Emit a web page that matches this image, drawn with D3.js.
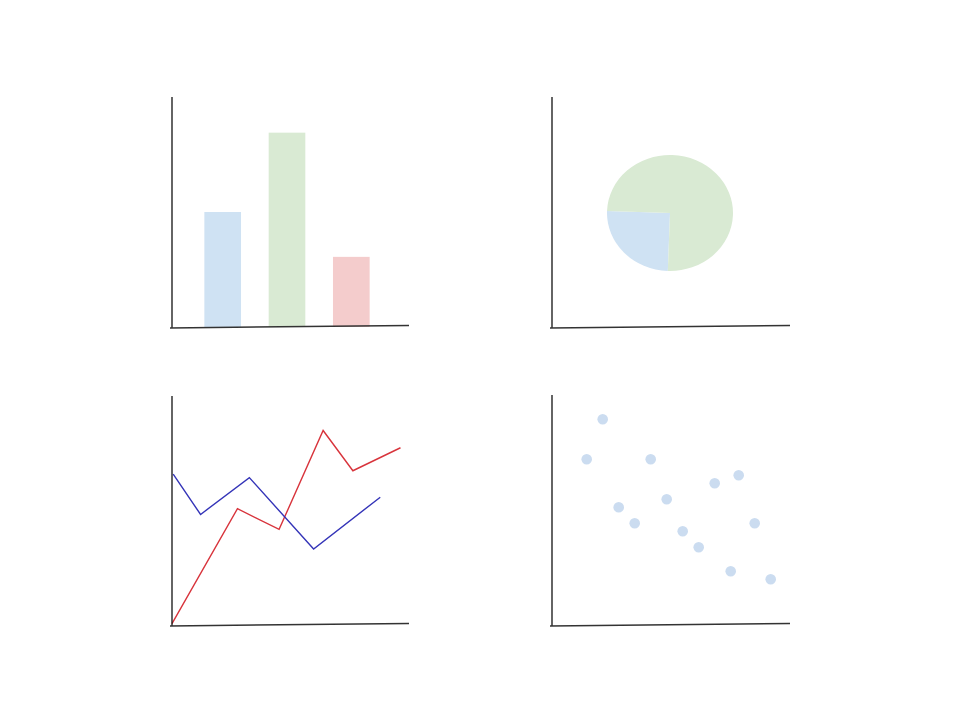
<!DOCTYPE html>
<html>
<head>
<meta charset="utf-8">
<script src="https://cdn.jsdelivr.net/npm/d3@7"></script>
<style>
  html, body { margin: 0; padding: 0; background: #fff; }
  svg { display: block; }
</style>
</head>
<body>
<script>
// ---- data ----
const barCategories = ["A", "B", "C"];
const barValues = [5, 8.45, 3.05];
const barColors = ["#cfe2f3", "#d9ead3", "#f4cccc"];

const pieLabels = ["Blue", "Green"];
const pieValues = [25, 75];
const pieColors = ["#cfe2f3", "#d9ead3"];

const redX = [0, 2.75, 4.5, 6.35, 7.6, 9.6];
const redY = [0.1, 5.1, 4.2, 8.5, 6.75, 7.75];
const blueX = [0.05, 1.2, 3.25, 5.95, 8.75];
const blueY = [6.6, 4.85, 6.45, 3.35, 5.6];

const scatterX = [3, 2, 6, 4, 5, 7, 8, 9, 10, 11.5, 12.5, 11, 13.5];
const scatterY = [26, 21, 21, 15, 13, 16, 12, 10, 18, 19, 13, 7, 6];

// ---- drawing ----
const W = 960, H = 720;
const svg = d3.select("body").append("svg").attr("width", W).attr("height", H);

function axes(g, x0, x1, yTop, yBot, yBotRight) {
  g.append("line").attr("x1", x0).attr("x2", x0).attr("y1", yTop).attr("y2", yBot)
    .attr("stroke", "#111").attr("stroke-width", 1.3);
  g.append("line").attr("x1", x0 - 2).attr("x2", x1).attr("y1", yBot).attr("y2", yBotRight)
    .attr("stroke", "#333").attr("stroke-width", 1.5);
}

// Panel 1: bar chart
{
  const g = svg.append("g");
  const x = d3.scaleBand().domain(barCategories).range([191.5, 382.5]).paddingInner(0.43).paddingOuter(0.2);
  const y = d3.scaleLinear().domain([0, 10]).range([327, 97]);
  g.selectAll("rect").data(barValues).join("rect")
    .attr("x", (d, i) => x(barCategories[i]))
    .attr("width", x.bandwidth())
    .attr("y", d => y(d))
    .attr("height", d => y(0) - y(d))
    .attr("fill", (d, i) => barColors[i]);
  axes(g, 172, 409, 97, 328, 325.5);
}

// Panel 2: pie chart
{
  const g = svg.append("g");
  const cx = 670, cy = 213, rx = 63, ry = 58;
  const pie = d3.pie().sort(null).startAngle(182 * Math.PI / 180).endAngle((182 + 360) * Math.PI / 180);
  const arc = d3.arc().innerRadius(0).outerRadius(rx);
  const pg = g.append("g").attr("transform", `translate(${cx},${cy}) scale(1,${ry / rx})`);
  pg.selectAll("path").data(pie(pieValues)).join("path")
    .attr("d", arc)
    .attr("fill", (d, i) => pieColors[i]);
  axes(g, 552, 790, 97, 328, 325.5);
}

// Panel 3: line chart
{
  const g = svg.append("g");
  const x = d3.scaleLinear().domain([0, 10]).range([172, 410]);
  const y = d3.scaleLinear().domain([0, 10]).range([626, 396]);
  const line = d3.line().x(d => x(d[0])).y(d => y(d[1]));
  g.append("path").datum(d3.zip(redX, redY)).attr("d", line)
    .attr("fill", "none").attr("stroke", "#d8343c").attr("stroke-width", 1.4);
  g.append("path").datum(d3.zip(blueX, blueY)).attr("d", line)
    .attr("fill", "none").attr("stroke", "#3434b8").attr("stroke-width", 1.4);
  axes(g, 172, 409, 396, 626, 623.5);
}

// Panel 4: scatter
{
  const g = svg.append("g");
  const x = d3.scaleLinear().domain([0, 15]).range([554.7, 794.7]);
  const y = d3.scaleLinear().domain([0, 29]).range([627.3, 395.3]);
  g.selectAll("circle").data(d3.zip(scatterX, scatterY)).join("circle")
    .attr("cx", d => x(d[0]))
    .attr("cy", d => y(d[1]))
    .attr("r", 5.3)
    .attr("fill", "#cbdcf0");
  axes(g, 552, 790, 395, 626, 623.5);
}
</script>
</body>
</html>
